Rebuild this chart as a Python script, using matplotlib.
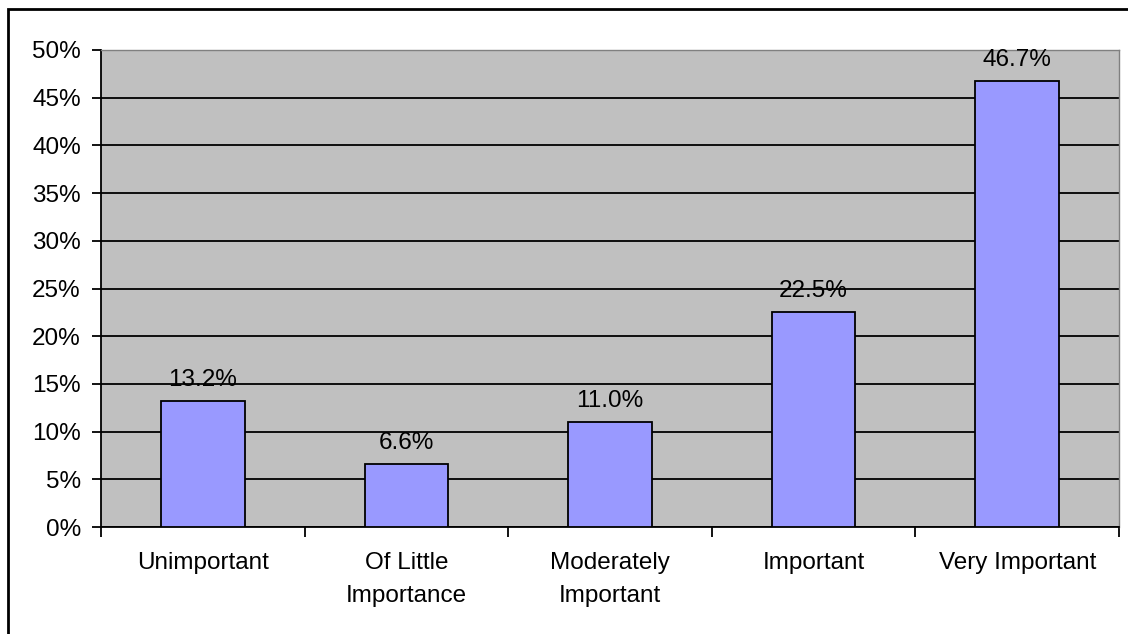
import matplotlib.pyplot as plt
from matplotlib.patches import Rectangle
import numpy as np

categories = ["Unimportant", "Of Little\nImportance", "Moderately\nImportant", "Important", "Very Important"]
values = [13.2, 6.6, 11.0, 22.5, 46.7]
yticks = [0, 5, 10, 15, 20, 25, 30, 35, 40, 45, 50]

plt.rcParams['font.family'] = ['Liberation Sans', 'DejaVu Sans']
FS = 17.5

W, H = 1128, 634
fig = plt.figure(figsize=(W / 100, H / 100), dpi=100)
ax = fig.add_axes([101 / W, 1 - 527 / H, (1119 - 101) / W, (527 - 50) / H])

x = np.arange(len(categories))
ax.set_facecolor('#c0c0c0')
ax.yaxis.grid(True, color='black', linewidth=1.3)
ax.set_axisbelow(True)
bars = ax.bar(x, values, width=0.41, color='#9999ff', edgecolor='black', linewidth=1.3, zorder=3)

for xi, v in zip(x, values):
    ax.text(xi, v + 1.1, f"{v:.1f}%", ha='center', va='bottom', fontsize=FS)

ax.set_xlim(-0.5, len(categories) - 0.5)
ax.set_ylim(0, 50)
ax.set_yticks(yticks)
ax.set_yticklabels([f"{t}%" for t in yticks], fontsize=FS)
ax.tick_params(axis='y', length=6.5, width=1.3, pad=8)

# category labels between boundary ticks
ax.set_xticks(np.arange(len(categories) + 1) - 0.5)
ax.set_xticklabels([])
ax.tick_params(axis='x', length=7, width=1.3)
for xi, c in zip(x, categories):
    ax.text(xi, -2.6, c, ha='center', va='top', fontsize=FS, linespacing=1.65)

for s in ['top', 'right']:
    ax.spines[s].set_color('#808080')
    ax.spines[s].set_linewidth(1)
for s in ['left', 'bottom']:
    ax.spines[s].set_linewidth(1.3)
ax.yaxis.get_gridlines()[-1].set_visible(False)

fig.patches.append(Rectangle((8 / W, -0.1), 1.2, 1.1 - 9 / H, transform=fig.transFigure,
                             fill=False, edgecolor='black', linewidth=2))

fig.savefig('out.png', dpi=100)
